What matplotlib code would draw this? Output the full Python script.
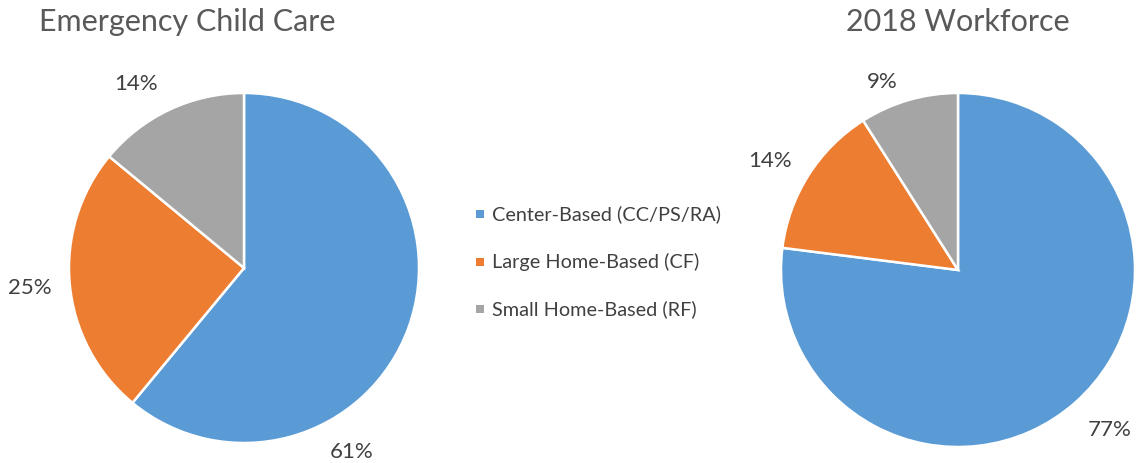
import matplotlib
matplotlib.use("Agg")
import matplotlib.pyplot as plt
import numpy as np
from matplotlib.patches import Rectangle

categories = ["Center-Based (CC/PS/RA)", "Large Home-Based (CF)", "Small Home-Based (RF)"]
emergency_values = [61, 25, 14]
workforce_values = [77, 14, 9]
titles = ["Emergency Child Care", "2018 Workforce"]
colors = ["#5B9BD5", "#ED7D31", "#A5A5A5"]
title_color = "#595959"
text_color = "#404040"
font = "Lato"

# label placement (angle in degrees, distance in radii) per slice
emergency_label_pos = [(-59.6, 1.22), (185.3, 1.228), (120.4, 1.22)]
workforce_label_pos = [(-46.5, 1.247), (149.9, 1.228), (112.0, 1.146)]

W, H = 1138, 463
fig = plt.figure(figsize=(W / 100, H / 100), dpi=100)


def add_pie(cx, cy, r, values, title, title_x, label_pos):
    ax = fig.add_axes([(cx - r) / W, (H - cy - r) / H, 2 * r / W, 2 * r / H])
    ax.pie(values, colors=colors, startangle=90, counterclock=False,
           wedgeprops=dict(edgecolor="white", linewidth=1.8), radius=1.0)
    ax.set_xlim(-1, 1)
    ax.set_ylim(-1, 1)
    ax.set_aspect("equal")
    ax.axis("off")
    for v, (ang, dist) in zip(values, label_pos):
        a = np.deg2rad(ang)
        ax.text(dist * np.cos(a), dist * np.sin(a), f"{v}%", ha="center", va="center",
                fontsize=16, color=text_color, family=font, clip_on=False)
    fig.text(title_x / W, 1 - 22 / H, title, ha="center", va="center",
             fontsize=22, color=title_color, family=font)
    return ax


add_pie(244, 268, 175, emergency_values, titles[0], 187, emergency_label_pos)
add_pie(958, 270, 177, workforce_values, titles[1], 958, workforce_label_pos)

# legend
for i, (cat, c) in enumerate(zip(categories, colors)):
    y = 214 + i * 47.5
    fig.patches.append(Rectangle(((480 - 4) / W, 1 - (y + 4) / H), 8 / W, 8 / H,
                                 transform=fig.transFigure, facecolor=c, edgecolor="none"))
    fig.text(492 / W, 1 - y / H, cat, ha="left", va="center", fontsize=14.3,
             color=text_color, family=font)

fig.savefig("out.png", dpi=100, facecolor="white")
